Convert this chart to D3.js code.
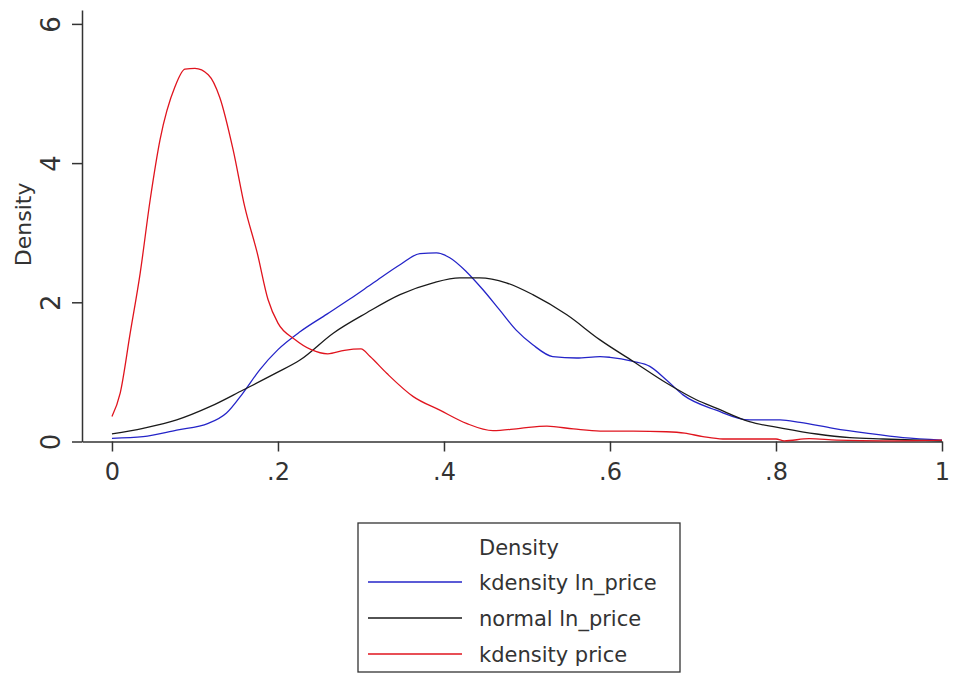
<!DOCTYPE html>
<html lang="en">
  <head>
    <meta charset="utf-8" />
    <title>Density plot</title>

    <script src="https://cdn.jsdelivr.net/npm/d3@7"></script>

    <style type="text/css">
      body {
        margin: 0;
        background: #ffffff;
      }

      .line {
        fill: none;
        stroke-width: 1.3;
      }

      .axis path,
      .axis line {
        stroke: #333333;
        stroke-width: 1.5;
      }

      .axis text {
        font-family: "DejaVu Sans", sans-serif;
        fill: #333333;
      }
    </style>
  </head>

  <body>
    <div id="chart"></div>

    <script type="text/javascript">
      /*******************************************
       * data
       *******************************************/

      const xTicks = [0, 0.2, 0.4, 0.6, 0.8, 1];
      const yTicks = [0, 2, 4, 6];

      const legendTitle = "Density";
      const seriesNames = ["kdensity ln_price", "normal ln_price", "kdensity price"];

      // kdensity ln_price
      const lnPriceX = [
        0, 0.0375, 0.078, 0.116, 0.138, 0.158, 0.178, 0.2, 0.227, 0.259, 0.287,
        0.315, 0.347, 0.371, 0.391, 0.407, 0.427, 0.447, 0.467, 0.487, 0.507,
        0.531, 0.56, 0.588, 0.6, 0.628, 0.648, 0.668, 0.688, 0.728, 0.768, 0.805,
        0.829, 0.869, 0.909, 0.953, 1.0,
      ];
      const lnPriceY = [
        0.046, 0.07, 0.165, 0.26, 0.41, 0.7, 1.03, 1.32, 1.58, 1.83, 2.05, 2.28,
        2.54, 2.7, 2.71, 2.64, 2.44, 2.18, 1.89, 1.6, 1.39, 1.22, 1.2, 1.22, 1.21,
        1.15, 1.08, 0.885, 0.67, 0.45, 0.31, 0.31, 0.275, 0.19, 0.12, 0.055, 0.02,
      ];

      // normal ln_price
      const normalX = [
        0, 0.0375, 0.078, 0.118, 0.158, 0.198, 0.2265, 0.267, 0.307, 0.347, 0.387,
        0.419, 0.443, 0.475, 0.507, 0.548, 0.588, 0.628, 0.668, 0.704, 0.728,
        0.768, 0.808, 0.849, 0.889, 0.929, 1.0,
      ];
      const normalY = [
        0.108, 0.19, 0.31, 0.5, 0.74, 0.985, 1.17, 1.56, 1.85, 2.11, 2.28, 2.35,
        2.35, 2.28, 2.11, 1.82, 1.46, 1.15, 0.84, 0.6, 0.48, 0.285, 0.19, 0.108,
        0.055, 0.036, 0.01,
      ];

      // kdensity price
      const priceX = [
        0, 0.01, 0.022, 0.034, 0.046, 0.058, 0.076, 0.088, 0.1, 0.116, 0.13, 0.146,
        0.16, 0.175, 0.188, 0.2, 0.22, 0.24, 0.26, 0.28, 0.3, 0.311, 0.331, 0.363,
        0.395, 0.427, 0.459, 0.492, 0.524, 0.556, 0.588, 0.628, 0.668, 0.69,
        0.712, 0.736, 0.8, 0.81, 0.84, 0.873, 0.93, 1.0,
      ];
      const priceY = [
        0.36, 0.7, 1.56, 2.42, 3.47, 4.34, 5.1, 5.35, 5.36, 5.27, 4.94, 4.19, 3.37,
        2.71, 2.04, 1.7, 1.47, 1.32, 1.26, 1.31, 1.33, 1.22, 0.98, 0.645, 0.45,
        0.26, 0.155, 0.19, 0.22, 0.18, 0.15, 0.15, 0.14, 0.12, 0.07, 0.036, 0.036,
        0.01, 0.04, 0.02, 0.01, 0.02,
      ];

      const colors = ["#2424c8", "#1a1a1a", "#e0141e"];

      /********************************************
       * create svg
       ********************************************/

      const width = 958;
      const height = 675;

      const svg = d3.select("div#chart").append("svg");
      svg.attr("width", width);
      svg.attr("height", height);

      /*********************************************
       * scale
       **********************************************/

      const xScale = d3.scaleLinear().domain([-0.0361, 1]).range([82, 942]);

      const yScale = d3
        .scaleLinear()
        .domain([0, 6.2])
        .range([441.5, 441.5 - 6.2 * 69.6]);

      /*******************************************:
       * axes
       *******************************************/

      const xAxis = d3
        .axisBottom(xScale)
        .tickValues(xTicks)
        .tickSize(10)
        .tickSizeOuter(0)
        .tickFormat((d) => (d === 0 || d === 1 ? String(d) : d3.format(".1f")(d).replace(/^0/, "")));

      const yAxis = d3
        .axisLeft(yScale)
        .tickValues(yTicks)
        .tickSize(10)
        .tickSizeOuter(0)
        .tickFormat(d3.format("d"));

      const gx = svg
        .append("g")
        .attr("class", "x axis")
        .attr("transform", `translate(0, ${yScale(0)})`)
        .call(xAxis);
      gx.selectAll("text").attr("y", 38.5).attr("dy", 0).style("font-size", "24px");

      const gy = svg
        .append("g")
        .attr("class", "y axis")
        .attr("transform", `translate(${xScale.range()[0]}, 0)`)
        .call(yAxis);
      gy.selectAll(".tick text")
        .attr("x", null)
        .attr("dy", null)
        .attr("text-anchor", "middle")
        .attr("transform", "translate(-22, 0) rotate(-90)")
        .style("font-size", "26px");

      // y title
      svg
        .append("text")
        .attr("transform", `translate(31, ${yScale(3.12)}) rotate(-90)`)
        .attr("text-anchor", "middle")
        .style("font-family", "DejaVu Sans, sans-serif")
        .style("font-size", "22px")
        .style("fill", "#333333")
        .text("Density");

      /*******************************************:
       * lines
       *******************************************/

      const line = d3
        .line()
        .x((d) => xScale(d[0]))
        .y((d) => yScale(d[1]))
        .curve(d3.curveMonotoneX);

      const series = [
        d3.zip(lnPriceX, lnPriceY),
        d3.zip(normalX, normalY),
        d3.zip(priceX, priceY),
      ];

      svg
        .selectAll("path.line")
        .data(series)
        .enter()
        .append("path")
        .attr("class", "line")
        .attr("d", line)
        .attr("stroke", (d, i) => colors[i]);

      /****************************************
       * legend
       * **************************************/

      const legend = svg.append("g").attr("class", "legend");

      legend
        .append("rect")
        .attr("x", 358)
        .attr("y", 523)
        .attr("width", 322)
        .attr("height", 149)
        .attr("fill", "#ffffff")
        .attr("stroke", "#333333")
        .attr("stroke-width", 1.3);

      legend
        .append("text")
        .attr("x", 479)
        .attr("y", 555)
        .style("font-family", "DejaVu Sans, sans-serif")
        .style("font-size", "21px")
        .style("fill", "#333333")
        .text(legendTitle);

      const rows = legend
        .selectAll("g.row")
        .data(seriesNames)
        .enter()
        .append("g")
        .attr("class", "row")
        .attr("transform", (d, i) => `translate(0, ${590 + i * 36})`);

      rows
        .append("line")
        .attr("x1", 368)
        .attr("x2", 462)
        .attr("y1", -8)
        .attr("y2", -8)
        .attr("stroke", (d, i) => colors[i])
        .attr("stroke-width", 1.6);

      rows
        .append("text")
        .attr("x", 479)
        .attr("y", 0)
        .style("font-family", "DejaVu Sans, sans-serif")
        .style("font-size", "21px")
        .style("fill", "#333333")
        .text((d) => d);
    </script>
  </body>
</html>
